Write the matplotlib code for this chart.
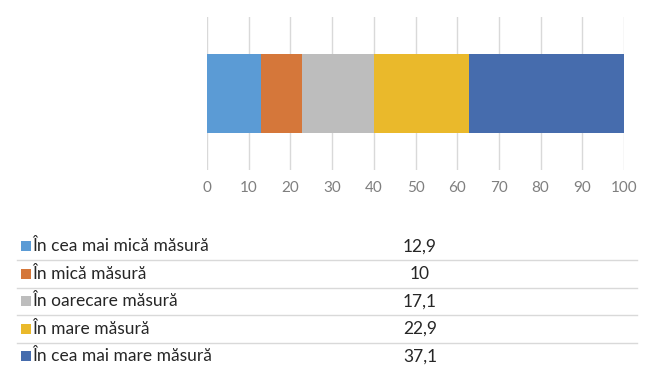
import matplotlib
matplotlib.use("Agg")
import matplotlib.pyplot as plt

plt.rcParams["font.family"] = ["Lato", "DejaVu Sans"]

categories = [
    "În cea mai mică măsură",
    "În mică măsură",
    "În oarecare măsură",
    "În mare măsură",
    "În cea mai mare măsură",
]
values = [12.9, 10, 17.1, 22.9, 37.1]
value_labels = ["12,9", "10", "17,1", "22,9", "37,1"]
colors = ["#5B9BD5", "#D5773A", "#BDBDBD", "#EAB92B", "#466CAD"]
xticks = list(range(0, 101, 10))

fig = plt.figure(figsize=(6.5, 3.88), dpi=100)

# stacked bar
ax = fig.add_axes([207 / 650, 1 - 170 / 388, 417 / 650, 153 / 388])
left = 0
for v, c in zip(values, colors):
    ax.barh(0, v, left=left, height=0.516, color=c, edgecolor="none", zorder=3)
    left += v
ax.set_xlim(0, 100)
ax.set_ylim(-0.5, 0.5)
ax.set_xticks(xticks)
ax.set_yticks([])
ax.grid(axis="x", color="#D9D9D9", linewidth=1, zorder=0)
for s in ax.spines.values():
    s.set_visible(False)
ax.tick_params(axis="x", length=0, pad=8, labelsize=11, labelcolor="#7F7F7F")

# data table below
tab = fig.add_axes([0, 1 - 370 / 388, 1, 137.5 / 388])
tab.set_xlim(0, 650)
tab.set_ylim(len(categories) - 0.5, -0.5)
tab.axis("off")
for i, (cat, lab, c) in enumerate(zip(categories, value_labels, colors)):
    tab.scatter(26, i, marker="s", s=55, color=c, linewidths=0)
    tab.text(32, i, cat, va="center", ha="left", fontsize=12.5, color="#262626")
    tab.text(420, i, lab, va="center", ha="center", fontsize=12.5, color="#262626")
    if i < len(categories) - 1:
        tab.plot([17, 637], [i + 0.5, i + 0.5], color="#D9D9D9", linewidth=1)

fig.savefig("out.png", dpi=100)
